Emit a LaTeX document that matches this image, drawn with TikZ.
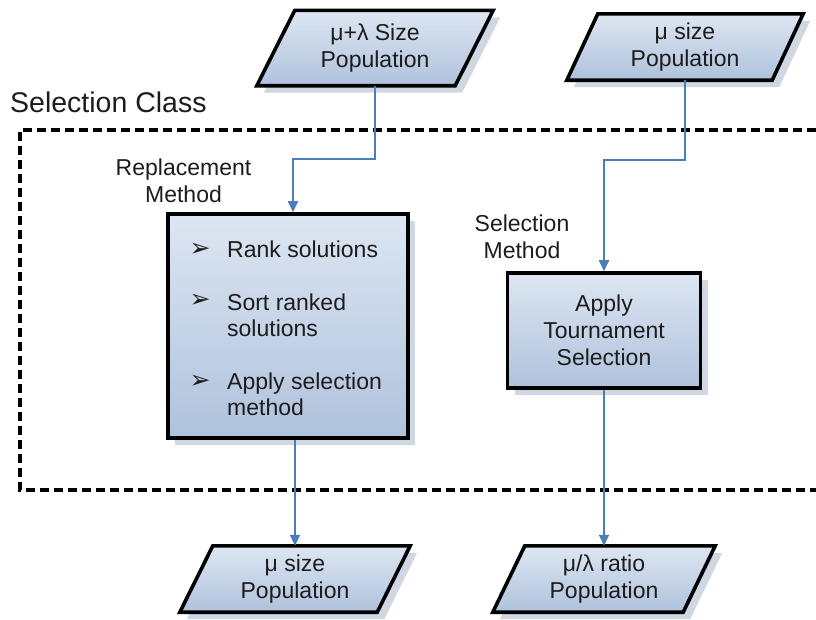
\documentclass[tikz,border=0pt]{standalone}
\usepackage{fontspec}
\setmainfont{Liberation Sans}
\newfontfamily\dingfont{DejaVu Sans}
\usetikzlibrary{arrows.meta,shadows,calc,backgrounds}
\definecolor{flowline}{HTML}{4A7EBB}
\definecolor{fillTop}{HTML}{DDE6F2}
\definecolor{fillBot}{HTML}{AFC2DC}
\definecolor{shadowtone}{HTML}{CFD7E2}
\definecolor{ink}{HTML}{1C1C1C}

% parallelogram drawn round a rectangular node: #1 node name, #2 slant
\newcommand\ioshape[2]{%
  \path[iofill] ($(#1.north west)+(#2,0)$) -- (#1.north east)
     -- ($(#1.south east)-(#2,0)$) -- (#1.south west) -- cycle;}

\begin{document}
\begin{tikzpicture}[x=1pt,y=-1pt,
  txt/.style={font=\fontsize{23}{27}\selectfont, text=ink, inner sep=0pt, align=center},
  iofill/.style={draw=black, line width=3.6pt, line join=miter,
    top color=fillTop, bottom color=fillBot,
    drop shadow={shadow xshift=7pt, shadow yshift=-7pt, fill=shadowtone, opacity=1}},
  procbox/.style={txt, draw=black, line width=3.6pt,
    top color=fillTop, bottom color=fillBot,
    drop shadow={shadow xshift=7pt, shadow yshift=-7pt, fill=shadowtone, opacity=1}},
  itemtext/.style={txt, anchor=base west},
  bullet/.style={font=\dingfont\fontsize{25}{25}\selectfont, text=ink, inner sep=0pt},
  flow/.style={draw=flowline, line width=1.8pt, -{Triangle[length=11pt,width=10pt]}},
  classframe/.style={draw=black, line width=3.6pt, dash pattern=on 9pt off 5pt},
]
\useasboundingbox (0,0) rectangle (816,619);

% class boundary
\node[font=\fontsize{28.5}{30}\selectfont, text=ink, inner sep=0pt, anchor=base west]
  (cls) at (10,112) {Selection Class};
\draw[classframe] (816,130) -- (20,130) -- (20,490) -- (816,490);

% populations
\node[txt, minimum width=236pt, minimum height=75pt] (tl) at (375,48) {μ+λ Size\\Population};
\node[txt, minimum width=236pt, minimum height=66pt] (tr) at (685,47) {μ size\\Population};
\node[txt, minimum width=230pt, minimum height=66pt] (bl) at (295,579) {μ size\\Population};
\node[txt, minimum width=222pt, minimum height=66pt] (br) at (604,579) {μ/λ ratio\\Population};
\begin{scope}[on background layer]
  \ioshape{tl}{38}
  \ioshape{tr}{31}
  \ioshape{bl}{33}
  \ioshape{br}{32}
\end{scope}

% replacement method
\node[txt] (replbl) at (183.5,181) {Replacement\\Method};
\node[procbox, minimum width=240pt, minimum height=224pt] (rep) at (288,326) {};
\node[bullet] (m1) at (200,250) {➢};
\node[itemtext] (i1) at (227,257) {Rank solutions};
\node[bullet] (m2) at (200,301) {➢};
\node[itemtext] (i2a) at (227,310) {Sort ranked};
\node[itemtext] (i2b) at (227,336) {solutions};
\node[bullet] (m3) at (200,382) {➢};
\node[itemtext] (i3a) at (227,389) {Apply selection};
\node[itemtext] (i3b) at (227,415) {method};

% selection method
\node[txt] (sellbl) at (522,237) {Selection\\Method};
\node[procbox, minimum width=193pt, minimum height=115pt] (sel) at (604,330.5)
  {Apply\\Tournament\\Selection};

% flow
\draw[flow] (tl.south) -- ++(0,73) -| ($(rep.north)+(5,0)$);
\draw[flow] (tr.south) -- ++(0,80) -| (sel.north);
\draw[flow] (bl.north |- rep.south) -- (bl.north);
\draw[flow] (sel.south) -- (br.north);
\end{tikzpicture}
\end{document}
